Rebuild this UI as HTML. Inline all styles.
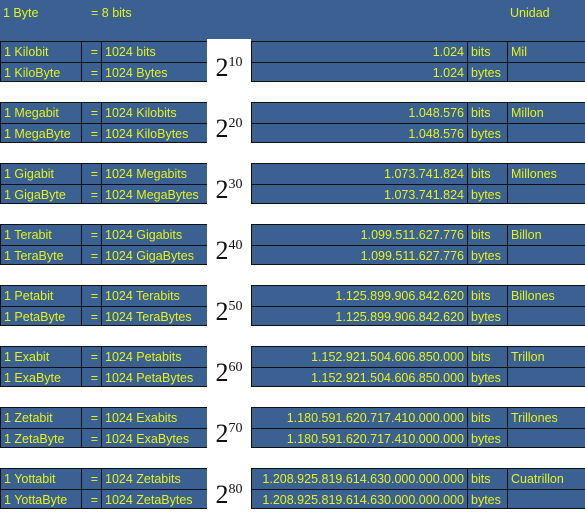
<!DOCTYPE html>
<html><head><meta charset="utf-8"><style>
body{margin:0;width:585px;height:509px;background:#fff;position:relative;overflow:hidden;font-family:"Liberation Sans",sans-serif}
.c{position:absolute;background:#3a6191;color:#e4f21e;font-size:12.5px;line-height:21px;box-sizing:border-box;border:1px solid #111;padding:0 3px;white-space:nowrap;overflow:hidden}
.r{text-align:right}
.p{position:absolute;background:#fff;font-family:"Liberation Serif",serif;font-size:26px;color:#111;text-align:center}
.p sup{font-size:14px;vertical-align:10px}
</style></head><body>
<div style="position:absolute;left:0;top:0;width:585px;height:41px;background:#3a6191"></div>
<div style="position:absolute;left:3px;top:6px;color:#e4f21e;font-size:12.5px">1 Byte</div>
<div style="position:absolute;left:91px;top:6px;color:#e4f21e;font-size:12.5px">= 8 bits</div>
<div style="position:absolute;left:510px;top:6px;color:#e4f21e;font-size:12.5px">Unidad</div>
<script>
const prefixes=["Kilo","Mega","Giga","Tera","Peta","Exa","Zeta","Yotta"];
const lower=["bits","Kilobits","Megabits","Gigabits","Terabits","Petabits","Exabits","Zetabits"];
const lowerB=["Bytes","KiloBytes","MegaBytes","GigaBytes","TeraBytes","PetaBytes","ExaBytes","ZetaBytes"];
const exps=[10,20,30,40,50,60,70,80];
const values=["1.024","1.048.576","1.073.741.824","1.099.511.627.776","1.125.899.906.842.620","1.152.921.504.606.850.000","1.180.591.620.717.410.000.000","1.208.925.819.614.630.000.000.000"];
const units=["Mil","Millon","Millones","Billon","Billones","Trillon","Trillones","Cuatrillon"];
function cell(x,y,w,h,t,cls,name){const d=document.createElement('div');d.className='c '+(cls||'');
d.style.left=x+'px';d.style.top=y+'px';d.style.width=w+'px';d.style.height=h+'px';d.textContent=t;


document.body.appendChild(d);}
prefixes.forEach((p,i)=>{
 const y=41+61*i;
 [[0,p+"bit",lower[i],"bits",units[i]],[1,p+"Byte",lowerB[i],"bytes",""]].forEach(([k,a,b,u,un])=>{
  const yy=y+k*20.5, h=k?20.5:21.5;
  cell(0,yy,82,h,"1 "+a,"",'unit-name');
  cell(81,yy,21,h,"=","r",'equals-sign');
  cell(101,yy,107,h,"1024 "+b,"",'equivalent');
  cell(251,yy,217,h,values[i],"r",'decimal-value');
  cell(467,yy,41,h,u,"",'value-unit');
  cell(507,yy,80,h,un,"",'unit-word');
 });
 const pw=document.createElement('div');pw.className='p';
 pw.style.left='207px';pw.style.top=(y-2)+'px';pw.style.width='44px';pw.style.height='44px';pw.style.lineHeight='48px';
 pw.innerHTML='2<sup>'+exps[i]+'</sup>';
 
 
 document.body.appendChild(pw);
});
</script>
</body></html>
